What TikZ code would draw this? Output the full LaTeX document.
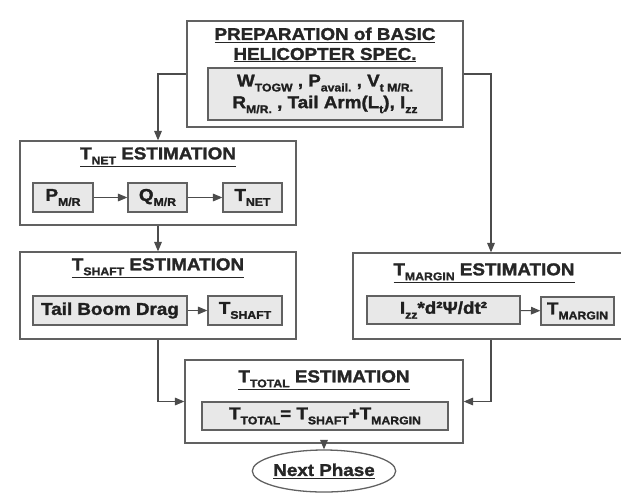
\documentclass[tikz,border=0pt]{standalone}
\usepackage{fontspec}
\setmainfont{Liberation Sans}[FakeStretch=1.1, BoldFeatures={FakeBold=1.6}]
\usepackage{tikz}
\usetikzlibrary{arrows.meta, positioning, shapes.geometric}
\newcommand{\lowtxt}[1]{\raisebox{-0.55ex}{\fontsize{9.5}{10}\selectfont #1}}

\begin{document}
\begin{tikzpicture}[
    x=0.03cm, y=-0.03cm,
    outer/.style={draw=black!62, line width=1.1pt, fill=white, inner sep=0pt},
    inbox/.style={draw=black!62, line width=1.1pt, fill=black!9, inner sep=0pt, font=\bfseries\fontsize{14.6}{18.5}\selectfont, text=black!88, align=center},
    ttl/.style={font=\bfseries\fontsize{14.6}{17}\selectfont, text=black!85, inner sep=0pt, align=center},
    arrow/.style={-{Triangle[length=8pt, width=6.5pt]}, line width=0.9pt, draw=black!70}
]
\useasboundingbox (0,0) rectangle (621,492);

% Basic helicopter spec
\node[outer, minimum width=8.28cm, minimum height=3.18cm] (prep) at (325,74) {};
\node[ttl] (prepttl) at (325,45) {\underline{PREPARATION of BASIC}\\\underline{HELICOPTER SPEC.}};
\node[inbox, minimum width=7.02cm, minimum height=1.56cm] (spec) at (325,94)
    {W\lowtxt{TOGW} , P\lowtxt{avail.} , V\lowtxt{t M/R.}\\R\lowtxt{M/R.} , Tail Arm(L\lowtxt{t}), I\lowtxt{zz}};

% Net thrust
\node[outer, minimum width=8.28cm, minimum height=2.52cm] (net) at (158,183) {};
\node[ttl] (netttl) at (158,157) {\underline{T\lowtxt{NET} ESTIMATION}};
\node[inbox, minimum width=1.8cm, minimum height=0.87cm] (pmr) at (63,197.5) {P\lowtxt{M/R}};
\node[inbox, minimum width=1.77cm, minimum height=0.87cm] (qmr) at (157.5,197.5) {Q\lowtxt{M/R}};
\node[inbox, minimum width=1.77cm, minimum height=0.87cm] (tnet) at (252.5,197.5) {T\lowtxt{NET}};

% Shaft thrust
\node[outer, minimum width=8.28cm, minimum height=2.61cm] (shaft) at (158,295.5) {};
\node[ttl] (shaftttl) at (158,268) {\underline{T\lowtxt{SHAFT} ESTIMATION}};
\node[inbox, minimum width=4.62cm, minimum height=0.87cm] (drag) at (110,310.5) {Tail Boom Drag};
\node[inbox, minimum width=2.22cm, minimum height=0.87cm] (tshaft) at (245,310.5) {T\lowtxt{SHAFT}};

% Margin thrust
\node[outer, minimum width=8.28cm, minimum height=2.58cm] (margin) at (491,296) {};
\node[ttl] (marginttl) at (484,273) {\underline{T\lowtxt{MARGIN} ESTIMATION}};
\node[inbox, minimum width=4.59cm, minimum height=0.84cm] (izz) at (443.5,310) {I\lowtxt{zz}*d²Ψ/dt²};
\node[inbox, minimum width=2.19cm, minimum height=0.84cm] (tmargin) at (577.5,311) {T\lowtxt{MARGIN}};

% Total thrust
\node[outer, minimum width=8.34cm, minimum height=2.49cm] (total) at (324,401.5) {};
\node[ttl] (totalttl) at (324,380) {\underline{T\lowtxt{TOTAL} ESTIMATION}};
\node[inbox, minimum width=7.38cm, minimum height=0.84cm] (sum) at (325,416) {T\lowtxt{TOTAL}= T\lowtxt{SHAFT}+T\lowtxt{MARGIN}};

\node[ellipse, draw=black!62, line width=1.1pt, fill=white, minimum width=3.96cm, minimum height=1.26cm, inner sep=0pt,
    font=\bfseries\fontsize{14.6}{17}\selectfont, text=black!85] (nextph) at (324,471) {\underline{Next Phase}};

% connectors
\draw[arrow] (prep.west) -| (net.north);
\draw[arrow] (prep.east) -| (margin.north);
\draw[arrow] (net.south) -- (shaft.north);
\draw[arrow] (shaft.south) |- (total.west);
\draw[arrow] (margin.south) |- (total.east);
\draw[arrow] (total.south) -- (nextph.north);

\draw[arrow] (pmr) -- (qmr);
\draw[arrow] (qmr) -- (tnet);
\draw[arrow] (drag) -- (tshaft);
\draw[arrow] (izz) -- (tmargin);

\end{tikzpicture}
\end{document}
